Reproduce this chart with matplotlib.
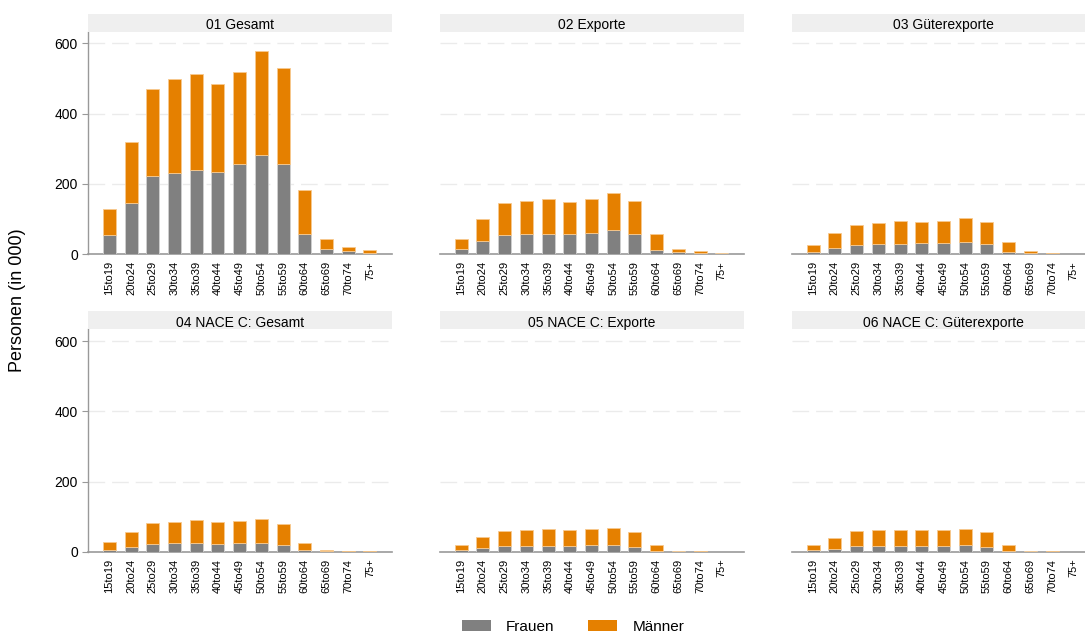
import matplotlib
matplotlib.use("Agg")
import matplotlib.pyplot as plt
from matplotlib.patches import Patch
import numpy as np

plt.rcParams['font.family'] = ['Liberation Sans', 'DejaVu Sans']

# age groups and panel titles
alter = ['15to19', '20to24', '25to29', '30to34', '35to39', '40to44', '45to49',
         '50to54', '55to59', '60to64', '65to69', '70to74', '75+']
titel = ['01 Gesamt', '02 Exporte', '03 Güterexporte',
         '04 NACE C: Gesamt', '05 NACE C: Exporte', '06 NACE C: Güterexporte']

# Frauen / total (in 000) per panel
frauen_01 = [54, 146, 223, 231, 239, 234, 256, 282, 256, 57, 14, 9, 3]
gesamt_01 = [128, 318, 471, 499, 512, 484, 518, 579, 530, 182, 42, 20, 10]
frauen_02 = [13, 37, 54, 56, 58, 57, 60, 67, 56, 11, 5, 3, 2]
gesamt_02 = [42, 101, 144, 151, 157, 149, 158, 174, 152, 56, 14, 8, 4]
frauen_03 = [7, 17, 26, 28, 29, 30, 32, 34, 29, 6, 3, 1, 0.5]
gesamt_03 = [27, 59, 84, 89, 93, 90, 95, 103, 90, 33, 9, 3, 1]
frauen_04 = [6, 13, 23, 24, 25, 23, 25, 25, 20, 4, 1, 0.5, 0.3]
gesamt_04 = [27, 57, 81, 86, 89, 86, 87, 92, 78, 26, 5, 2, 1]
frauen_05 = [5, 10, 16, 16, 17, 17, 18, 19, 14, 2, 1, 0.5, 0.3]
gesamt_05 = [19, 42, 60, 63, 66, 63, 64, 68, 57, 18, 3, 2, 0.5]
frauen_06 = [4, 9, 16, 16, 17, 16, 17, 18, 13, 2, 1, 0.5, 0.3]
gesamt_06 = [19, 40, 58, 61, 63, 61, 62, 66, 55, 18, 3, 2, 0.5]

frauen = [frauen_01, frauen_02, frauen_03, frauen_04, frauen_05, frauen_06]
gesamt = [gesamt_01, gesamt_02, gesamt_03, gesamt_04, gesamt_05, gesamt_06]

grau = '#808080'
orange = '#e58000'

W, H = 1085, 636
fig = plt.figure(figsize=(W / 100, H / 100), dpi=100)

lefts = [87.7, 439.5, 791.5]
bottoms = [254, 551.7]
aw, ah = 304, 222.5
strip_h = 18

x = np.arange(len(alter))
for i in range(6):
    r, c = divmod(i, 3)
    l = lefts[c] / W
    b = 1 - bottoms[r] / H
    ax = fig.add_axes([l, b, aw / W, ah / H])
    f = np.array(frauen[i], dtype=float)
    m = np.array(gesamt[i], dtype=float) - f
    ax.bar(x, f, width=0.6, color=grau, edgecolor='#d0d0d0', linewidth=0.6, zorder=3)
    ax.bar(x, m, bottom=f, width=0.6, color=orange, edgecolor='#f7c98f', linewidth=0.6, zorder=3)
    ax.set_xlim(-1, 13)
    ax.set_ylim(0, 634)
    ax.set_yticks([0, 200, 400, 600])
    for yv in [200, 400, 600]:
        ax.axhline(yv, color='#ebebeb', lw=1, ls=(0, (12, 5)), zorder=1)
    ax.set_xticks(x)
    ax.set_xticklabels(alter, rotation=90, fontsize=8)
    ax.tick_params(axis='x', length=0, pad=5)
    for s in ['top', 'right']:
        ax.spines[s].set_visible(False)
    ax.spines['bottom'].set_color('#999999')
    ax.spines['bottom'].set_linewidth(1.2)
    if c == 0:
        ax.spines['left'].set_color('#999999')
        ax.spines['left'].set_linewidth(1)
        ax.tick_params(axis='y', labelsize=10, length=4, color='#999999', pad=3)
    else:
        ax.spines['left'].set_visible(False)
        ax.tick_params(axis='y', left=False, labelleft=False)
    # title strip
    sax = fig.add_axes([l, b + ah / H, aw / W, strip_h / H])
    sax.set_facecolor('#efefef')
    sax.set_xticks([])
    sax.set_yticks([])
    for s in sax.spines.values():
        s.set_visible(False)
    sax.text(0.5, 0.45, titel[i], ha='center', va='center_baseline', fontsize=10,
             transform=sax.transAxes)

fig.text(18 / W, 1 - 300 / H, 'Personen (in 000)', rotation=90,
         ha='center', va='center', fontsize=13)

handles = [Patch(facecolor=grau, label='Frauen'), Patch(facecolor=orange, label='Männer')]
fig.legend(handles=handles, loc='center', bbox_to_anchor=(573 / W, 1 - 627 / H),
           ncol=2, frameon=False, fontsize=11, handlelength=1.9, handleheight=0.75,
           columnspacing=2.2, handletextpad=1.0)

fig.savefig('out.png', dpi=100)
